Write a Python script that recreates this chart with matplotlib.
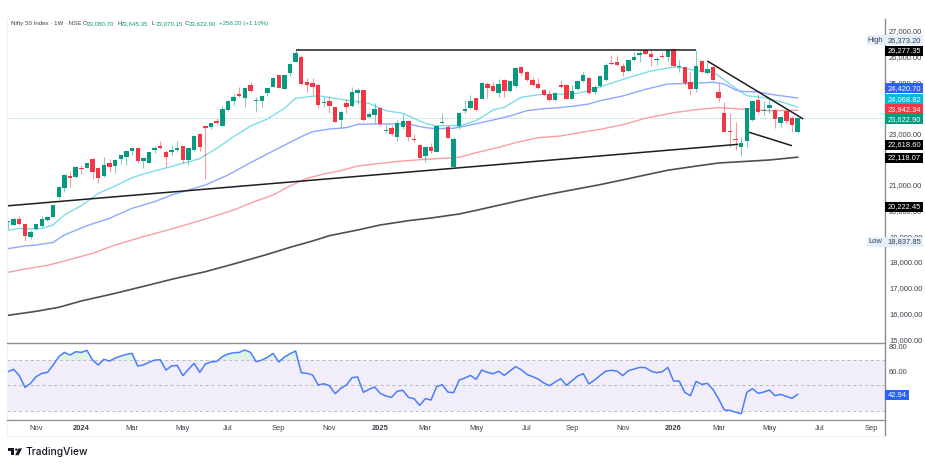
import matplotlib
matplotlib.use("Agg")
import matplotlib.pyplot as plt
from matplotlib.lines import Line2D
from matplotlib.patches import Polygon, Rectangle, Circle

plt.rcParams['font.family'] = ['Liberation Sans', 'DejaVu Sans']

W, H = 925, 465
GREEN = '#089981'
RED = '#F23645'
TEXT = '#3b3f4a'

# weekly candles, Nifty 50
opens = [19595, 19478, 19712, 19505, 19025, 19310, 19453, 19686, 19803, 20555,
         20931, 21398, 21333, 21696, 21696, 22033, 21683, 21385, 21891, 21761,
         22059, 22137, 22371, 22487, 21956, 21904, 22409, 22539, 22306, 22306,
         22396, 22539, 21994, 22384, 23019, 23317, 23291, 23538, 23343, 23953,
         24290, 24562, 24407, 24913, 24290, 24290, 24601, 24861, 25302, 24783,
         25380, 25834, 26028, 25043, 24991, 24926, 24213, 24290, 24057, 23564,
         24213, 24109, 24602, 24731, 23694, 23759, 24031, 23149, 23266, 22916,
         23292, 23512, 22799, 22591, 22163, 22501, 22319, 23447, 23305, 21722,
         23318, 23914, 24031, 24407, 24381, 24965, 24887, 24615, 25120, 24692,
         24900, 25639, 25419, 25120, 24965, 24744, 24563, 24329, 24913, 24926,
         24381, 24770, 25082, 25211, 24667, 24887, 25120, 25795, 25821, 25665,
         25471, 25899, 26080, 26288, 26132, 25886, 26054, 26028, 26314, 25639,
         25613, 25030, 24770, 25860, 25380, 25639, 24641, 23836, 23110, 22825,
         22514, 22760, 23564, 24355, 23927, 24044, 23953, 23447, 23914, 23629,
         23080.70]
highs = [19640, 19803, 19828, 19520, 19284, 19520, 19842, 19842, 20270, 20996,
         21463, 21566, 21774, 21826, 21904, 22085, 21709, 22111, 22033, 22046,
         22215, 22371, 22487, 22500, 22137, 22332, 22565, 22747, 22396, 22604,
         22760, 22552, 22526, 22980, 23045, 23330, 23460, 23629, 24160, 24342,
         24562, 24835, 24835, 25042, 24472, 24537, 24822, 25237, 25328, 25354,
         25795, 26277.35, 26080, 25211, 25185, 24952, 24472, 24511, 24083, 23914,
         24381, 24835, 24822, 24745, 23888, 24213, 24057, 23370, 23370, 23564,
         23785, 23538, 23019, 22617, 22552, 22656, 23357, 23823, 23370, 22890,
         23849, 24342, 24537, 24433, 25056, 25056, 25056, 25146, 25146, 25120,
         25626, 25678, 25484, 25224, 25211, 24770, 24731, 24667, 25120, 24952,
         24926, 25120, 25419, 25237, 24926, 25302, 25769, 26093, 26093, 25769,
         25925, 26223, 26314, 26325, 26288, 26028, 26223, 26340, 26373.20, 25899,
         25639, 25445, 26288, 25899, 25834, 25665, 24991, 24277, 23823, 23499,
         22916, 24044, 24342, 24576, 24316, 24407, 23979, 23720, 23953, 23720,
         23645.35]
lows = [19310, 19470, 19478, 18837.85, 18921, 19284, 19414, 19647, 19777, 20490,
        20749, 20944, 21294, 21463, 21683, 21255, 21099, 21359, 21540, 21502,
        21852, 21813, 22202, 21878, 21683, 21878, 22293, 22435, 21748, 22163,
        22332, 21904, 21813, 22371, 22371, 21268, 23201, 23356, 23330, 23927,
        24134, 24446, 24057, 24666, 23888, 24083, 24498, 24835, 24796, 24757,
        25276, 25808, 24913, 24667, 24537, 24044, 24057, 23823, 23473, 23240,
        23849, 24057, 24187, 23538, 23629, 23434, 23344, 23045, 22942, 22760,
        23201, 22760, 22708, 22073, 21943, 22293, 22306, 23408, 22851, 21696,
        23201, 23823, 23992, 23927, 24368, 24420, 24641, 24472, 24446, 24667,
        24796, 25315, 25095, 24887, 24783, 24498, 24303, 24303, 24822, 24368,
        24368, 24731, 25056, 24576, 24576, 24861, 25095, 25704, 25665, 25276,
        25445, 25873, 25834, 26119, 25665, 25717, 25964, 25873, 25639, 25445,
        24926, 24537, 24667, 25406, 25354, 25120, 24277, 23084, 22526, 22397,
        22163, 22526, 23538, 23798, 23759, 23849, 23240, 23305, 23460, 23110,
        23070.15]
closes = [19634, 19725, 19517, 19038, 19206, 19505, 19712, 19790, 20244, 20957,
          21437, 21320, 21722, 21670, 21878, 21528, 21294, 21826, 21748, 22020,
          22189, 22345, 22461, 21981, 22072, 22306, 22474, 22474, 22124, 22384,
          22474, 22007, 22474, 22941, 22500, 23253, 23434, 23460, 23979, 24290,
          24472, 24485, 24809, 24679, 24342, 24511, 24796, 25211, 24822, 25315,
          25756, 26158, 24965, 24926, 24835, 24135, 24277, 24109, 23499, 23888,
          24083, 24654, 24731, 23564, 23785, 23979, 23408, 23188, 23019, 23447,
          23525, 22890, 22773, 22086, 22526, 22358, 23331, 23499, 22864, 22812,
          23823, 24005, 24316, 23966, 24991, 24822, 24692, 24978, 24680, 25082,
          25600, 25406, 25120, 24939, 24809, 24537, 24329, 24602, 24848, 24394,
          24705, 25082, 25302, 24602, 24861, 25276, 25691, 25743, 25691, 25445,
          25886, 26028, 26171, 26145, 26002, 25938, 26028, 26288, 25652, 25665,
          25017, 24783, 25665, 25445, 25536, 25133, 24407, 23110, 23084, 22799,
          22682, 24018, 24316, 23862, 23953, 24135, 23603, 23668, 23525, 23366.70,
          23622.90]

# moving averages, read every few weeks: week number, value
ma20_w = [0, 2, 5, 6, 8, 10, 13, 16, 19, 22, 25, 28, 31, 34, 37, 40, 43, 46, 49, 51,
          52, 55, 58, 61, 64, 67, 70, 74, 76, 78, 80, 83, 86, 88, 91, 94, 97, 100, 103,
          106, 110, 114, 118, 119, 122, 125, 127, 129, 131, 134, 137, 140]
ma20 = [19271, 19349, 19323, 19349, 19479, 19868, 20231, 20710, 20996, 21320, 21528,
        21696, 21878, 22059, 22461, 22915, 23330, 23603, 24018, 24407, 24433, 24511,
        24407, 24303, 24213, 23927, 23823, 23434, 23331, 23344, 23331, 23538, 23953,
        24057, 24446, 24550, 24563, 24563, 24705, 24926, 25211, 25471, 25626, 25613,
        25484, 25445, 25120, 24796, 24511, 24433, 24277, 24068.82]
ma50_w = [0, 3, 5, 8, 10, 14, 18, 22, 26, 29, 32, 35, 39, 43, 47, 50, 52, 54, 57, 60,
          62, 65, 68, 71, 74, 76, 79, 82, 86, 89, 92, 95, 97, 100, 103, 105, 109, 113,
          117, 121, 125, 127, 129, 130, 133, 136, 140]
ma50 = [18558, 18662, 18700, 18804, 19090, 19453, 19738, 20127, 20387, 20646, 20840,
        21035, 21424, 21904, 22358, 22695, 22916, 23110, 23214, 23266, 23396, 23408,
        23408, 23408, 23266, 23227, 23240, 23370, 23564, 23720, 23927, 24005, 24031,
        24096, 24187, 24316, 24498, 24757, 24965, 24991, 25030, 24965, 24731, 24679,
        24654, 24537, 24420.70]
ma100_w = [0, 3, 7, 10, 15, 19, 24, 29, 35, 40, 44, 47, 50, 53, 56, 59, 62, 65, 70, 74,
           77, 80, 83, 87, 90, 94, 98, 103, 105, 109, 113, 118, 122, 126, 128, 131, 135, 140]
ma100 = [17637, 17767, 17909, 18078, 18376, 18700, 19025, 19323, 19712, 20062, 20413,
         20646, 20996, 21294, 21463, 21593, 21774, 21852, 21969, 22034, 22073, 22111,
         22293, 22500, 22682, 22877, 22942, 23136, 23201, 23383, 23629, 23849, 23966,
         24044, 24018, 23979, 23927, 23942.34]
ma200_w = [0, 5, 9, 13, 19, 25, 29, 35, 40, 46, 50, 54, 57, 62, 66, 71, 75, 80, 83, 88,
           93, 97, 101, 105, 109, 113, 117, 122, 126, 130, 135, 140]
ma200 = [15964, 16120, 16275, 16522, 16820, 17144, 17365, 17663, 17961, 18337, 18610,
         18856, 19064, 19284, 19479, 19647, 19751, 19907, 20049, 20296, 20542, 20720,
         20885, 21050, 21235, 21424, 21610, 21770, 21891, 21943, 22008, 22118.07]

rsi = [60.8, 62.7, 57.7, 48.4, 51.6, 56.9, 59.5, 60.3, 66.1, 72.7, 76.1, 74.0, 76.6,
       76.1, 77.7, 70.0, 66.1, 70.6, 69.2, 71.6, 73.2, 74.5, 75.3, 65.3, 66.1, 68.2,
       70.0, 70.3, 62.1, 65.3, 65.8, 57.7, 62.7, 67.4, 60.3, 66.9, 68.5, 69.0, 72.7,
       74.8, 75.8, 76.1, 78.0, 76.1, 68.7, 70.0, 72.1, 75.3, 68.5, 72.4, 75.0, 77.2,
       60.0, 59.5, 58.2, 50.3, 51.3, 49.7, 43.4, 47.6, 50.3, 56.1, 56.6, 44.5, 46.8,
       48.7, 43.7, 41.6, 40.5, 45.3, 46.1, 40.5, 39.5, 34.2, 39.5, 38.4, 49.0, 50.5,
       44.7,
       44.2, 54.2, 55.8, 57.9, 54.75, 62.1, 60.3, 59.2, 61.1, 57.9, 61.3, 64.8, 62.4,
       58.7, 56.9, 55.0, 51.9, 49.75, 52.6, 55.3, 50.0, 53.7, 57.4, 59.2, 51.1, 54.2,
       57.9, 61.3, 61.9, 61.3, 57.7, 61.6, 62.9, 64.2, 64.0, 61.3, 60.0, 60.8, 64.2,
       53.4, 53.4, 44.5, 41.8, 53.2, 50.8, 51.6, 46.8, 39.2, 30.5, 30.2, 28.7, 27.6,
       44.5, 47.4, 43.7, 44.7, 46.3, 41.8, 42.9, 41.3, 39.7, 42.94]

# drawn trend lines as (week, price) ends
flat_line = [(51, 26277.35), (122, 26277.35)]
rising_line = [(-0.2, 20222.45), (129.5, 22618.60)]
falling_top = [(124, 25860), (141, 23603)]
falling_low = [(131.4, 23086), (139, 22564)]

time_weeks = [5, 13, 22, 31, 39, 48, 57, 66, 74, 83, 92, 100, 109, 118, 126, 135, 144, 153]
time_labels = ['Nov', '2024', 'Mar', 'May', 'Jul', 'Sep', 'Nov', '2025', 'Mar', 'May',
               'Jul', 'Sep', 'Nov', '2026', 'Mar', 'May', 'Jul', 'Sep']
price_ticks = [27000, 26000, 25000, 23000, 21000, 20000, 19000, 18000, 17000, 16000, 15000]


def axes_box(left, top, right, bottom):
    return [left / W, 1 - bottom / H, (right - left) / W, (bottom - top) / H]


fig = plt.figure(figsize=(W / 100, H / 100), dpi=100, facecolor='white')
ax = fig.add_axes(axes_box(7, 19, 884.5, 342))
ax_rsi = fig.add_axes(axes_box(7, 342, 884.5, 420))

xlim = ((7 - 8) / 5.64, (884.5 - 8) / 5.64)
for a in (ax, ax_rsi):
    a.set_xlim(*xlim)
    a.set_xticks([])
    a.set_yticks([])
    for s in a.spines.values():
        s.set_visible(False)
ax.set_ylim(14926, 27494)
ax_rsi.set_ylim(22.6, 84.3)

# last price marker
ax.axhline(closes[-1], color=GREEN, lw=0.6, ls=(0, (1, 2)), alpha=0.6, zorder=1)

# MAs
ax.plot(ma20_w, ma20, color='#7fdde8', lw=1.0, zorder=2)
ax.plot(ma50_w, ma50, color='#8ea9fb', lw=1.0, zorder=2)
ax.plot(ma100_w, ma100, color='#f99ea6', lw=1.0, zorder=2)
ax.plot(ma200_w, ma200, color='#4f4f4f', lw=1.2, zorder=2)

# candles
for i in range(len(closes)):
    c = GREEN if closes[i] >= opens[i] else RED
    ax.vlines(i, lows[i], highs[i], color=c, lw=0.8, alpha=0.5, zorder=3)
    bottom = min(opens[i], closes[i])
    ax.bar(i, max(abs(closes[i] - opens[i]), 40), bottom=bottom, width=0.78, color=c, lw=0, zorder=4)

for line in (flat_line, rising_line, falling_top, falling_low):
    ax.plot([p[0] for p in line], [p[1] for p in line], color='#1e1e1e', lw=1.1, zorder=5,
            solid_capstyle='butt')

# RSI pane
weeks = list(range(len(rsi)))
ax_rsi.axhspan(30, 70, color='#f1eef9', lw=0, zorder=1)
for lev in (70, 50, 30):
    ax_rsi.axhline(lev, color='#b9b8c0', lw=0.7, ls=(0, (3, 3)), zorder=2)
ax_rsi.fill_between(weeks, rsi, 70, where=[v > 70 for v in rsi], interpolate=True,
                    color='#dff3e6', lw=0, zorder=2)
ax_rsi.plot(weeks, rsi, color='#4a7dfb', lw=1.1, zorder=3)

# everything around the panes, in pixels from the top left
ov = fig.add_axes([0, 0, 1, 1], zorder=10)
ov.set_xlim(0, W)
ov.set_ylim(H, 0)
ov.axis('off')
ov.patch.set_alpha(0)


def hline(y, x0, x1, color, lw=1.0):
    ov.add_line(Line2D([x0, x1], [y, y], color=color, lw=lw, zorder=1))


def vline(x, y0, y1, color, lw=1.0):
    ov.add_line(Line2D([x, x], [y0, y1], color=color, lw=lw, zorder=1))


def price_y(p):
    return 134.5 - (p - 23000) * 0.0257


vline(884.5, 19, 436, '#8a8d93', 1.0)
vline(6.5, 19, 436, '#f0f2f6', 0.8)
hline(342.5, 7, 884.5, '#8f9196', 1.0)
hline(420, 7, 884.5, '#8a8d93', 0.9)
hline(436, 7, 884.5, '#f0f2f6', 0.8)

AX_FS = 5.4
AX_X = 889
for p in price_ticks:
    ov.text(AX_X, price_y(p), f'{p:,.2f}', fontsize=AX_FS, color=TEXT, ha='left', va='center', zorder=2)
for v in (80, 60, 40):
    ov.text(AX_X, 372.7 - (v - 60) * 1.265, f'{v:.2f}', fontsize=AX_FS, color=TEXT, ha='left',
            va='center', zorder=2)

for wk, lab in zip(time_weeks, time_labels):
    bold = lab.startswith('20')
    ov.text(8 + 5.64 * wk, 428, lab, fontsize=AX_FS, color=TEXT, ha='center', va='center',
            fontweight='bold' if bold else 'normal')


def tag(y, text, bg, fg='white', x0=885, x1=923):
    ov.add_patch(Rectangle((x0, y - 5), x1 - x0, 10, fc=bg, ec='none', zorder=3))
    ov.text((x0 + x1) / 2, y, text, fontsize=AX_FS, color=fg, ha='center', va='center', zorder=4)


tag(40.3, '26,373.20', '#e3effd', TEXT)
tag(40.3, 'High', '#e3effd', TEXT, 867, 884)
tag(51, '26,277.35', '#000000')
tag(88.3, '24,420.70', '#2962FF')
tag(99.3, '24,068.82', '#00BCD4')
tag(109.3, '23,942.34', RED)
tag(119.3, '23,622.90', GREEN)
tag(145, '22,618.60', '#000000')
tag(157.7, '22,118.07', '#000000')
tag(206.7, '20,222.45', '#000000')
tag(241.7, '18,837.85', '#e3effd', TEXT)
tag(241.7, 'Low', '#e3effd', TEXT, 867, 884)
tag(395, '42.94', '#2962FF', x1=909)

# symbol line
HEAD_Y = 23.5
HEAD_FS = 4.4
ov.text(10.7, HEAD_Y, 'Nifty 50 Index · 1W · NSE', fontsize=HEAD_FS, color=TEXT, va='center')
head_items = [(82.7, 'O', 87, '23,080.70'), (117, 'H', 121, '23,645.35'),
              (152, 'L', 156, '23,070.15'), (185, 'C', 189, '23,622.90')]
for x_a, letter, x_b, val in head_items:
    ov.text(x_a, HEAD_Y, letter, fontsize=HEAD_FS, color=TEXT, va='center')
    ov.text(x_b, HEAD_Y, val, fontsize=HEAD_FS, color=GREEN, va='center')
ov.text(219, HEAD_Y, '+256.20 (+1.10%)', fontsize=HEAD_FS, color=GREEN, va='center')

# TradingView mark
LOGO = '#131722'
ov.add_patch(Rectangle((7.7, 448.4), 6.6, 2.3, fc=LOGO, ec='none'))
ov.add_patch(Rectangle((11.2, 448.4), 3.1, 6.8, fc=LOGO, ec='none'))
ov.add_patch(Circle((16.3, 449.6), 1.2, fc=LOGO, ec='none'))
ov.add_patch(Polygon([(18.5, 448.4), (22, 448.4), (18.6, 455.2), (15.2, 455.2)], fc=LOGO, ec='none'))
ov.text(26, 451.6, 'TradingView', fontsize=7.4, color=LOGO, va='center', family=['Inter', 'DejaVu Sans'],
        fontweight='medium')

fig.savefig('out.png', dpi=100)
